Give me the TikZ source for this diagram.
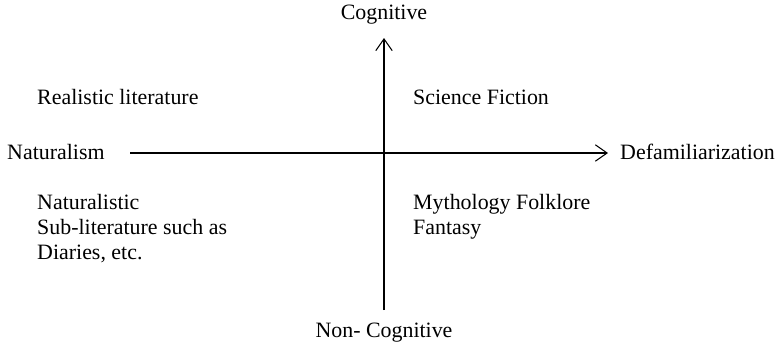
\documentclass[tikz,border=0pt]{standalone}
\usepackage{fontspec}
\setmainfont{Liberation Serif}
\usetikzlibrary{arrows.meta}

\begin{document}
\begin{tikzpicture}[x=0.03cm,y=-0.03cm,font=\fontsize{18.7}{21.3}\selectfont,
  lbl/.style={inner sep=0pt,anchor=west,align=left},
  axis/.style={line width=0.9pt,-{Straight Barb[length=10pt,width=14pt,line width=0.9pt]}}]
  \useasboundingbox (0,0) rectangle (779,350);
  % axes
  \coordinate (xl) at (130,153);
  \coordinate (xr) at (608,153);
  \coordinate (yb) at (384,310);
  \coordinate (yt) at (384,38);
  \draw[axis] (xl) -- (xr);
  \draw[axis] (yb) -- (yt);
  % pole labels
  \node (cog) at (384,15) {Cognitive};
  \node (noncog) at (384,333) {Non- Cognitive};
  \node[lbl] (nat) at (7,152) {Naturalism};
  \node[lbl] (defam) at (620,152) {Defamiliarization};
  % quadrants
  \node[lbl] (real) at (37,97) {Realistic literature};
  \node[lbl] (scifi) at (413,97) {Science Fiction};
  \node[lbl] (sublit) at (37,229) {Naturalistic\\Sub-literature such as\\Diaries, etc.};
  \node[lbl] (myth) at (413,216.5) {Mythology Folklore\\Fantasy};
\end{tikzpicture}
\end{document}
